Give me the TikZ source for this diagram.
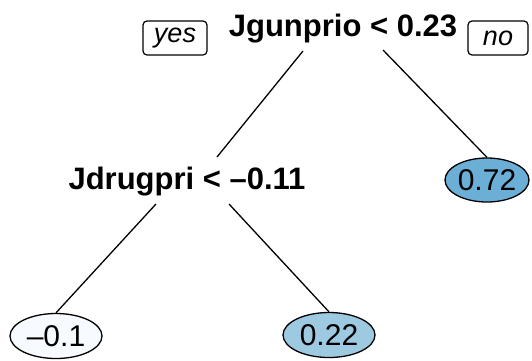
\documentclass[tikz,border=0pt]{standalone}
\usepackage{fontspec}
\setmainfont{Liberation Sans}
\usetikzlibrary{shapes.geometric,calc}
\definecolor{leafA}{HTML}{F7FBFF}
\definecolor{leafB}{HTML}{9ECAE1}
\definecolor{leafC}{HTML}{6BAED6}
\tikzset{
  split/.style={font=\fontsize{31}{33}\selectfont\bfseries, inner sep=0pt},
  leaf/.style={ellipse, draw, line width=1.3pt, minimum width=92pt, minimum height=45pt,
    inner sep=0pt, font=\fontsize{30}{32}\selectfont},
  answer/.style={draw, line width=1.2pt, rounded corners=4pt, minimum height=34pt,
    inner sep=0pt, font=\fontsize{27}{29}\selectfont\itshape},
  branch/.style={line width=1.3pt}
}
\begin{document}
\begin{tikzpicture}[x=1pt,y=-1pt]
\useasboundingbox (0,0) rectangle (532,360);
% split conditions
\node[split, anchor=base] (root) at (343,36) {Jgunprio < 0.23};
\node[split, anchor=base] (left) at (187,189) {Jdrugpri < –0.11};
% yes / no tags
\node[answer, minimum width=64pt] (yes) at (175,38) {yes};
\node[answer, minimum width=60pt] (no) at (498,38) {no};
% leaves
\node[leaf, fill=leafC, minimum width=84pt, minimum height=44pt] (l72) at (487,180) {0.72};
\node[leaf, fill=leafA] (l01) at (56,336) {–0.1};
\node[leaf, fill=leafB] (l22) at (329,335) {0.22};
% branches
\draw[branch] ($(root.base)+(-40,15)$) -- ($(left.base)+(30,-32)$);
\draw[branch] ($(root.base)+(40,14)$) -- (l72.north);
\draw[branch] ($(left.base)+(-31,15)$) -- (l01.north);
\draw[branch] ($(left.base)+(42,15)$) -- (l22.north);
\end{tikzpicture}
\end{document}
